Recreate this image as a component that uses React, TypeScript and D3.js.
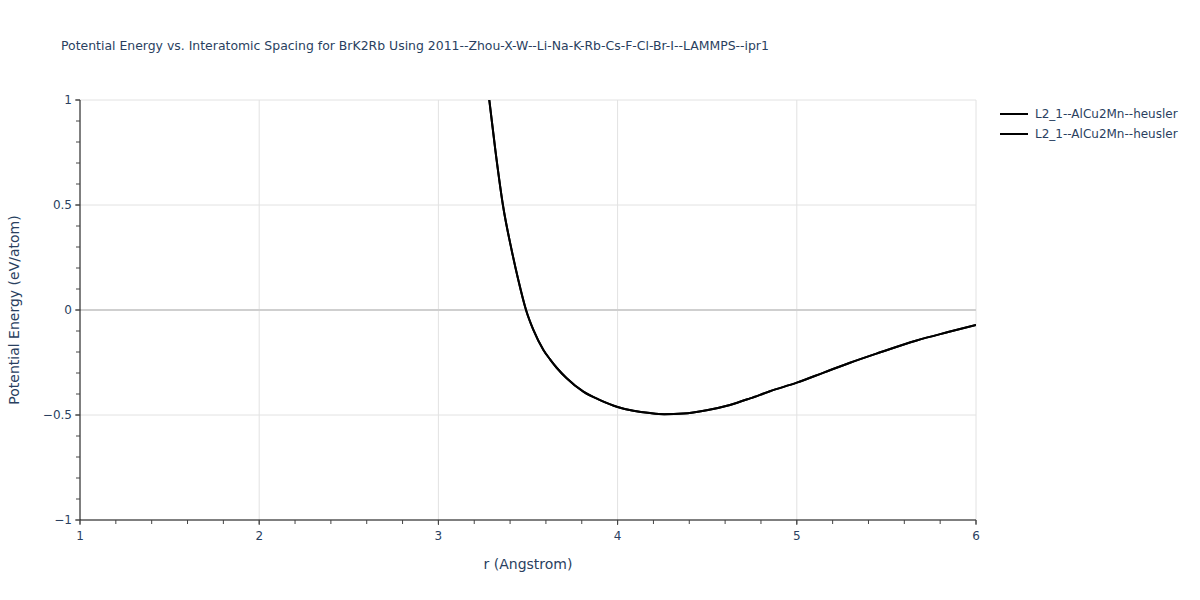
import React from "react";
import * as d3 from "d3";

const rValues = [3.284, 3.318, 3.36, 3.41, 3.446, 3.489, 3.53, 3.586, 3.623, 3.66, 3.716, 3.809, 3.902, 4.0, 4.088, 4.181, 4.26, 4.367, 4.497, 4.627, 4.739, 4.85, 5.0, 5.15, 5.297, 5.45, 5.669, 5.85, 6.0];
const energyA = [1.0, 0.76, 0.5, 0.28, 0.143, 0.0, -0.095, -0.19, -0.235, -0.275, -0.325, -0.389, -0.429, -0.462, -0.48, -0.491, -0.496, -0.493, -0.477, -0.452, -0.421, -0.387, -0.346, -0.298, -0.251, -0.206, -0.145, -0.104, -0.071];
const energyB = [1.0, 0.76, 0.5, 0.28, 0.143, 0.0, -0.095, -0.19, -0.235, -0.275, -0.325, -0.389, -0.429, -0.462, -0.48, -0.491, -0.496, -0.493, -0.477, -0.452, -0.421, -0.387, -0.346, -0.298, -0.251, -0.206, -0.145, -0.104, -0.071];
const seriesNames = ["L2_1--AlCu2Mn--heusler", "L2_1--AlCu2Mn--heusler"];
const xTicks = [1, 2, 3, 4, 5, 6];
const yTicks = [-1, -0.5, 0, 0.5, 1];
const titleText = "Potential Energy vs. Interatomic Spacing for BrK2Rb Using 2011--Zhou-X-W--Li-Na-K-Rb-Cs-F-Cl-Br-I--LAMMPS--ipr1";

const FONT = "'DejaVu Sans', Verdana, sans-serif";
const TEXT = "#2a3f5f";

export default function App() {
  const left = 80, right = 976, top = 100, bottom = 520;
  const x = d3.scaleLinear().domain([1, 6]).range([left, right]);
  const y = d3.scaleLinear().domain([-1, 1]).range([bottom, top]);
  const xMinor = d3.range(1, 6.001, 0.2).map((v) => +v.toFixed(2));
  const yMinor = d3.range(-1, 1.001, 0.1).map((v) => +v.toFixed(2));
  const series = [energyA, energyB];
  const line = d3
    .line<[number, number]>()
    .x((d) => x(d[0]))
    .y((d) => y(d[1]))
    .curve(d3.curveMonotoneX);
  const fmt = (v: number) => (v < 0 ? "\u2212" + Math.abs(v) : String(v));

  return (
    <svg width={1200} height={600} style={{ position: "absolute", left: 0, top: 0, background: "#fff" }}>
      <defs>
        <clipPath id="plotclip">
          <rect x={left} y={top} width={right - left} height={bottom - top} />
        </clipPath>
      </defs>
      {xTicks.slice(1).map((t) => (
        <line key={"gx" + t} x1={x(t)} x2={x(t)} y1={top} y2={bottom} stroke="#e2e2e2" strokeWidth={1} />
      ))}
      {yTicks.filter((t) => t !== 0 && t !== -1).map((t) => (
        <line key={"gy" + t} x1={left} x2={right} y1={y(t)} y2={y(t)} stroke="#e2e2e2" strokeWidth={1} />
      ))}
      <line x1={left} x2={right} y1={y(0)} y2={y(0)} stroke="#cfcfcf" strokeWidth={2} />
      <g clipPath="url(#plotclip)">
        {series.map((s, i) => (
          <path
            key={"s" + i}
            d={line(rValues.map((r, j) => [r, s[j]] as [number, number])) || ""}
            fill="none"
            stroke="#000"
            strokeWidth={2}
          />
        ))}
      </g>
      <line x1={left} x2={right} y1={bottom} y2={bottom} stroke="#000" strokeWidth={1} />
      <line x1={left} x2={left} y1={top} y2={bottom} stroke="#000" strokeWidth={1} />
      {xMinor.map((t) => (
        <line key={"xm" + t} x1={x(t)} x2={x(t)} y1={bottom} y2={bottom + 4} stroke="#444" strokeWidth={1} />
      ))}
      {xTicks.map((t) => (
        <g key={"xt" + t}>
          <line x1={x(t)} x2={x(t)} y1={bottom} y2={bottom + 5} stroke="#444" strokeWidth={1} />
          <text x={x(t)} y={bottom + 20} textAnchor="middle" fontSize={12} fill={TEXT} fontFamily={FONT}>
            {fmt(t)}
          </text>
        </g>
      ))}
      {yMinor.map((t) => (
        <line key={"ym" + t} x1={left - 4} x2={left} y1={y(t)} y2={y(t)} stroke="#444" strokeWidth={1} />
      ))}
      {yTicks.map((t) => (
        <g key={"yt" + t}>
          <line x1={left - 5} x2={left} y1={y(t)} y2={y(t)} stroke="#444" strokeWidth={1} />
          <text x={left - 8} y={y(t) + 4} textAnchor="end" fontSize={12} fill={TEXT} fontFamily={FONT}>
            {fmt(t)}
          </text>
        </g>
      ))}
      <text x={61} y={50} fontSize={12.45} fill={TEXT} fontFamily={FONT}>
        {titleText}
      </text>
      <text x={(left + right) / 2} y={569} textAnchor="middle" fontSize={14} fill={TEXT} fontFamily={FONT}>
        r (Angstrom)
      </text>
      <text
        transform={`translate(19, ${(top + bottom) / 2}) rotate(-90)`}
        textAnchor="middle"
        fontSize={14}
        fill={TEXT}
        fontFamily={FONT}
      >
        Potential Energy (eV/atom)
      </text>
      {seriesNames.map((n, i) => (
        <g key={"lg" + i} transform={`translate(1000, ${114 + i * 20})`}>
          <line x1={0} x2={28} y1={0} y2={0} stroke="#000" strokeWidth={2} />
          <text x={35} y={4} fontSize={12} fill={TEXT} fontFamily={FONT}>
            {n}
          </text>
        </g>
      ))}
    </svg>
  );
}
